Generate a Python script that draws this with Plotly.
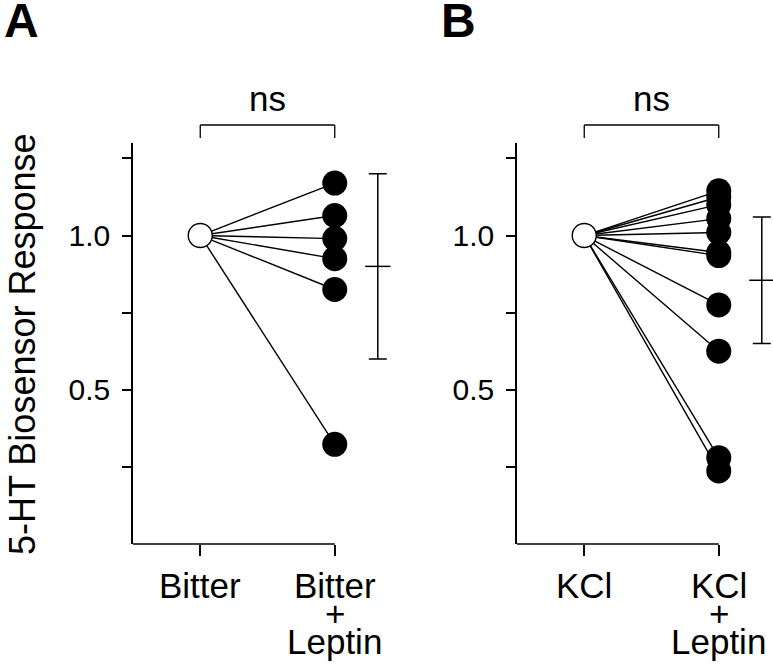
import plotly.graph_objects as go

# ---------------- data ----------------
categories_A = ["Bitter", "Bitter + Leptin"]
categories_B = ["KCl", "KCl + Leptin"]
control_A = [1.0, 1.0, 1.0, 1.0, 1.0, 1.0]
leptin_A = [1.17, 1.065, 0.99, 0.925, 0.825, 0.323]
control_B = [1.0] * 11
leptin_B = [1.145, 1.125, 1.10, 1.055, 1.01, 0.945, 0.935, 0.775, 0.625, 0.28, 0.237]
mean_A, sd_A = 0.90, 0.30
mean_B, sd_B = 0.855, 0.205
ytick_vals = [0.25, 0.5, 0.75, 1.0, 1.25]
ytick_text = ["", "0.5", "", "1.0", ""]
panel_labels = ["A", "B"]
sig_labels = ["ns", "ns"]

W, H = 773, 665
FONT = "Liberation Sans, Arial, sans-serif"
BLACK = "black"

def px_x(p):
    return p / W

def px_y(p):
    return (H - p) / H

fig = go.Figure()

UNIT = 134.5
domA = (133, 400)
domB = (517, 772)
y_dom = (px_y(544), px_y(143))

def xr(dom):
    return [-0.5, -0.5 + (dom[1] - dom[0]) / UNIT]

def add_panel(ctrl, lep, mean, sd, xa, ya):
    xs, ys = [], []
    for c, l in zip(ctrl, lep):
        xs += [0, 1, None]
        ys += [c, l, None]
    fig.add_trace(go.Scatter(x=xs, y=ys, mode="lines", xaxis=xa, yaxis=ya,
                             line=dict(color=BLACK, width=1.4),
                             showlegend=False, hoverinfo="skip"))
    fig.add_trace(go.Scatter(x=[1] * len(lep), y=lep, mode="markers", xaxis=xa, yaxis=ya,
                             marker=dict(size=25, color=BLACK, line=dict(width=0)),
                             showlegend=False, cliponaxis=False))
    fig.add_trace(go.Scatter(x=[0], y=[ctrl[0]], mode="markers", xaxis=xa, yaxis=ya,
                             marker=dict(size=24, color="white",
                                         line=dict(color=BLACK, width=1.4)),
                             showlegend=False, cliponaxis=False))
    fig.add_trace(go.Scatter(x=[1.32], y=[mean], mode="markers", xaxis=xa, yaxis=ya,
                             marker=dict(symbol="line-ew-open", size=18, color=BLACK,
                                         line=dict(color=BLACK, width=1.5)),
                             error_y=dict(type="data", array=[sd], color=BLACK,
                                          thickness=1.5, width=9),
                             showlegend=False, cliponaxis=False))

add_panel(control_A, leptin_A, mean_A, sd_A, "x", "y")
add_panel(control_B, leptin_B, mean_B, sd_B, "x2", "y2")

xcommon = dict(showline=False, showgrid=False, zeroline=False, ticks="outside",
               ticklen=11, tickwidth=1.5, tickcolor=BLACK, tickvals=[0, 1],
               showticklabels=False, fixedrange=True)
ycommon = dict(showline=True, linecolor=BLACK, linewidth=1.5, showgrid=False,
               zeroline=False, ticks="outside", ticklen=9, tickwidth=1.5,
               tickcolor=BLACK, tickvals=ytick_vals, ticktext=ytick_text,
               tickfont=dict(family=FONT, size=30, color=BLACK),
               range=[0, 1.3], domain=list(y_dom), ticklabelstandoff=6)

fig.update_layout(
    width=W, height=H,
    margin=dict(l=0, r=0, t=0, b=0),
    paper_bgcolor="white", plot_bgcolor="white",
    xaxis=dict(xcommon, domain=[px_x(domA[0]), px_x(domA[1])], range=xr(domA), anchor="y"),
    yaxis=dict(ycommon, anchor="x"),
    xaxis2=dict(xcommon, domain=[px_x(domB[0]), px_x(domB[1])], range=xr(domB), anchor="y2"),
    yaxis2=dict(ycommon, anchor="x2"),
    font=dict(family=FONT, color=BLACK),
)

shapes = []
annotations = []
for i, (xref, cats) in enumerate([("x", categories_A), ("x2", categories_B)]):
    shapes.append(dict(type="line", xref=xref, yref="paper", x0=-0.5, x1=1,
                       y0=y_dom[0], y1=y_dom[0], line=dict(color=BLACK, width=1.5)))
    shapes.append(dict(type="line", xref=xref, yref="paper", x0=0, x1=1,
                       y0=px_y(125), y1=px_y(125), line=dict(color=BLACK, width=1.3)))
    shapes.append(dict(type="line", xref=xref, yref="paper", x0=0, x1=0,
                       y0=px_y(125), y1=px_y(138), line=dict(color=BLACK, width=1.3)))
    shapes.append(dict(type="line", xref=xref, yref="paper", x0=1, x1=1,
                       y0=px_y(125), y1=px_y(138), line=dict(color=BLACK, width=1.3)))
    annotations.append(dict(text=sig_labels[i], xref=xref, yref="paper", x=0.5,
                            y=px_y(98), showarrow=False, yanchor="middle",
                            font=dict(size=35, family=FONT, color=BLACK)))
    first = cats[0]
    base, extra = cats[1].split(" + ")
    lab_font = dict(size=35, family=FONT, color=BLACK)
    annotations.append(dict(text=first, xref=xref, yref="paper", x=0, y=px_y(585),
                            showarrow=False, yanchor="middle", font=lab_font))
    annotations.append(dict(text=base, xref=xref, yref="paper", x=1, y=px_y(585),
                            showarrow=False, yanchor="middle", font=lab_font))
    annotations.append(dict(text="+", xref=xref, yref="paper", x=1, y=px_y(613),
                            showarrow=False, yanchor="middle", font=lab_font))
    annotations.append(dict(text=extra, xref=xref, yref="paper", x=1, y=px_y(641),
                            showarrow=False, yanchor="middle", font=lab_font))

annotations.append(dict(text="<b>" + panel_labels[0] + "</b>", xref="paper", yref="paper",
                        x=px_x(21), y=px_y(21), showarrow=False, xanchor="center",
                        yanchor="middle", font=dict(size=48, family=FONT, color=BLACK)))
annotations.append(dict(text="<b>" + panel_labels[1] + "</b>", xref="paper", yref="paper",
                        x=px_x(458), y=px_y(21), showarrow=False, xanchor="center",
                        yanchor="middle", font=dict(size=48, family=FONT, color=BLACK)))
annotations.append(dict(text="5-HT Biosensor Response", xref="paper", yref="paper",
                        x=px_x(23), y=px_y(344), showarrow=False, textangle=-90,
                        xanchor="center", yanchor="middle",
                        font=dict(size=36, family=FONT, color=BLACK)))

fig.update_layout(shapes=shapes, annotations=annotations)
fig.write_html("out.html", config={"displayModeBar": False},
               post_script="document.body.style.margin='0';document.body.style.padding='0';")
